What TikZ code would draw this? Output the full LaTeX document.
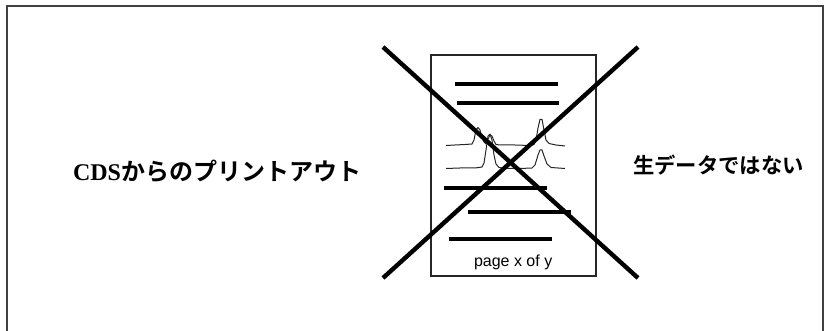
\documentclass[tikz,border=0pt]{standalone}
\usepackage{fontspec}
\setmainfont{Liberation Serif}
\newfontfamily\jpfont{Noto Sans CJK JP}[BoldFont={* Bold}]
\newfontfamily\helv{Liberation Sans}
\tikzset{
  frameline/.style={draw=black!75,line width=1.5pt},
  pageline/.style={draw=black!85,line width=1pt},
  crossline/.style={draw=black,line width=3.3pt},
  barline/.style={draw=black,line width=3pt},
  trace/.style={draw=black!85,line width=0.75pt,line join=round},
  lbl/.style={inner sep=0pt,outer sep=0pt,anchor=west,text=black}
}
\begin{document}
\begin{tikzpicture}[x=0.75pt,y=-0.75pt]
\useasboundingbox (0,0) rectangle (827,331);
\draw[frameline] (7,331) -- (7,6.5) -- (823,6.5) -- (823,331);
\draw[pageline] (431,55) rectangle (596,276);
\foreach \xa/\xb/\yy in {455/558/84,457/559/103.5,444/547/188,468/571/212.5,449/552/239}
  \draw[barline] (\xa,\yy) -- (\xb,\yy);
\draw[trace] plot coordinates {(446,145.5) (455,145) (465,144.5) (472,144) (474,140) (476,130) (478,127.5) (480,130) (482,138) (484,142) (486,144) (488,139) (490,135) (492,136) (494,141) (496,144.5) (500,145) (515,145) (530,145.5) (534,144.5) (536,140) (538,128) (540,119.5) (542,119.5) (544,130) (546,140) (549,143.5) (556,145) (565,146)};
\draw[trace] plot coordinates {(446,168.5) (460,168) (475,168) (482,167) (484,163) (486,150) (488,136) (490,134) (492,140) (494,155) (496,164) (499,167.5) (505,168.5) (520,168.5) (532,168) (535,165) (538,155) (540,150) (542,150) (544,156) (547,164) (551,167.5) (558,168) (565,168.5)};
\draw[crossline] (383,47) -- (638,278);
\draw[crossline] (638,47) -- (383,278);
\node[lbl,font=\helv\fontsize{12}{14}\selectfont] (pg) at (474,262) {page x of y};
\node[lbl,font=\fontsize{18}{22}\selectfont\bfseries] (left) at (73,171) {CDS{\jpfont\bfseries からのプリントアウト}};
\node[lbl,font=\jpfont\bfseries\fontsize{16}{20}\selectfont] (right) at (633,165) {生データではない};
\end{tikzpicture}
\end{document}
